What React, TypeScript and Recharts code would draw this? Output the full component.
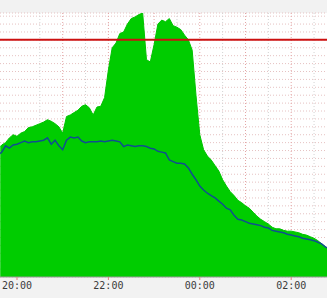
import React from 'react';
import { ComposedChart, Area, Line, XAxis, YAxis, CartesianGrid, ReferenceLine } from 'recharts';

// minutes after 20:00
const minutes = [
  -22, -20, -15, -10, -5, 0, 5, 10, 15, 20, 25, 30, 35, 40, 45, 50, 55, 60, 65, 70,
  75, 80, 85, 90, 95, 100, 105, 110, 115, 120, 125, 130, 135, 140, 145, 150, 155, 160, 165, 170,
  175, 180, 185, 190, 195, 200, 205, 210, 215, 220, 225, 230, 235, 240, 245, 250, 255, 260, 265, 270,
  275, 280, 285, 290, 295, 300, 305, 310, 315, 320, 325, 330, 335, 340, 345, 350, 355, 360, 365, 370,
  375, 380, 385, 390, 395, 400, 405, 407,
];

const traffic = [
  16.5, 16.7, 17.0, 17.6, 18.0, 17.8, 18.2, 18.4, 18.9, 19.0, 19.2, 19.4, 19.6, 19.9, 19.7, 19.4, 19.0, 18.2, 20.3, 20.5,
  20.8, 21.1, 21.6, 21.8, 21.4, 20.5, 21.5, 21.6, 22.7, 26.2, 29.0, 29.6, 30.8, 31.0, 32.0, 32.7, 32.9, 33.2, 33.4, 27.5,
  27.2, 29.4, 32.0, 32.5, 32.3, 32.7, 31.8, 31.6, 31.3, 30.6, 30.0, 28.7, 23.0, 18.0, 16.1, 15.3, 14.8, 14.1, 13.4, 12.3,
  11.5, 10.8, 10.3, 9.7, 9.4, 9.0, 8.7, 8.2, 7.7, 7.3, 7.0, 6.7, 6.3, 6.1, 6.1, 5.9, 5.8, 5.8, 5.7, 5.6,
  5.4, 5.3, 5.1, 4.9, 4.6, 4.2, 3.8, 3.7,
];

const average = [
  15.6, 15.8, 16.6, 16.3, 16.7, 16.8, 17.0, 17.2, 17.0, 17.1, 17.1, 17.2, 17.3, 17.6, 16.8, 17.3, 16.6, 16.1, 17.3, 17.7,
  17.6, 17.7, 17.2, 17.0, 17.1, 17.1, 17.1, 17.2, 17.1, 17.2, 17.3, 17.2, 17.1, 16.5, 16.7, 16.6, 16.5, 16.6, 16.6, 16.5,
  16.3, 16.2, 15.9, 15.8, 15.7, 14.8, 14.6, 14.4, 14.4, 14.3, 13.8, 13.0, 12.3, 11.5, 11.0, 10.6, 10.3, 10.0, 9.6, 9.2,
  8.7, 8.5, 7.8, 7.3, 7.2, 7.0, 6.8, 6.7, 6.6, 6.5, 6.3, 6.2, 5.9, 5.8, 5.7, 5.6, 5.4, 5.3, 5.2, 5.1,
  4.9, 4.8, 4.7, 4.6, 4.4, 4.2, 3.8, 3.7,
];

const limit = 30;
const hourLines = [0, 60, 120, 180, 240, 300, 360];
const halfHourLines = [30, 90, 150, 210, 270, 330, 390];
const tickMinutes = [0, 120, 240, 360];
const tickLabels = ['20:00', '22:00', '00:00', '02:00'];
const yGrid = [0, 1, 2, 3, 4, 5, 6, 7, 8, 9, 10, 11, 12, 13, 14, 15, 16, 17, 18, 19, 20, 21, 22, 23, 24, 25, 26, 27, 28, 29, 30, 31, 32, 33];

const data = minutes.map((m, i) => ({ m, traffic: traffic[i], average: average[i] }));

const App: React.FC = () => {
  return (
    <div style={{ position: 'absolute', left: 0, top: 0, width: 327, height: 298, background: '#f2f2f2' }}>
      <ComposedChart width={327} height={298} data={data} margin={{ top: 13, right: 0, bottom: 0, left: 0 }}>
        <CartesianGrid vertical={false} fill="#ffffff" stroke="#e6c2c2" strokeDasharray="1 2" />
        <CartesianGrid horizontal={false} stroke="#d2d2d2" strokeDasharray="1 2" verticalValues={halfHourLines} />
        <CartesianGrid horizontal={false} stroke="#e4a4a4" strokeDasharray="1 2" verticalValues={hourLines} />
        <XAxis
          dataKey="m"
          type="number"
          domain={[-22.3, 407]}
          allowDataOverflow
          ticks={tickMinutes}
          tickFormatter={(v: number) => tickLabels[tickMinutes.indexOf(v)]}
          height={21}
          axisLine={{ stroke: '#9a9a9a' }}
          tickLine={{ stroke: '#e08080' }}
          tickSize={3}
          tickMargin={2}
          tick={{ fontFamily: 'DejaVu Sans Mono', fontSize: 10, fill: '#3a3a3a' }}
        />
        <YAxis
          type="number"
          domain={[0, 33.4]}
          allowDataOverflow
          ticks={yGrid}
          interval={0}
          width={0}
          tick={() => <g />}
          axisLine={false}
          tickLine={false}
        />
        <Area dataKey="traffic" type="linear" fill="#00cc00" fillOpacity={1} stroke="#00c400" strokeWidth={1} isAnimationActive={false} />
        <Line dataKey="average" type="linear" stroke="#0f4f8f" strokeWidth={1.5} dot={false} isAnimationActive={false} />
        <ReferenceLine y={limit} stroke="#cc1010" strokeWidth={2} />
      </ComposedChart>
    </div>
  );
};

export default App;
